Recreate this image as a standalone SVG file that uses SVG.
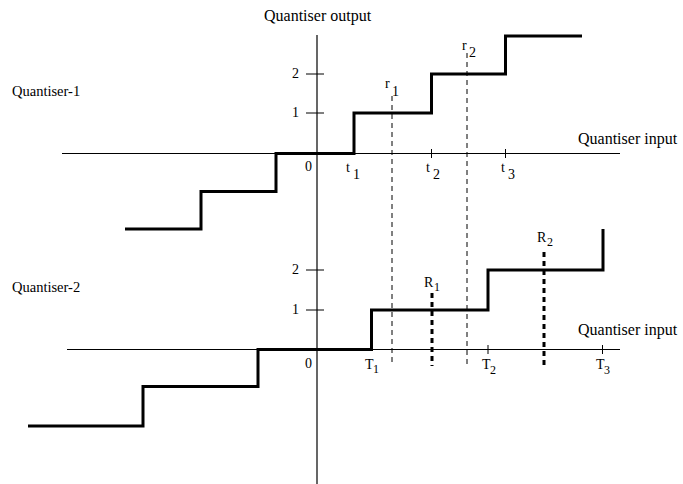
<svg xmlns="http://www.w3.org/2000/svg" width="683" height="484" viewBox="0 0 683 484">
<style>
text{font-family:"Liberation Serif","Times New Roman",serif;fill:#000}
.lab{font-size:16px}
.ql{font-size:14.5px}
.num{font-size:14px}
.sub{font-size:12px}
.axis{stroke:#000;stroke-width:1.2;fill:none}
.tick{stroke:#000;stroke-width:1;fill:none}
.step{stroke:#000;stroke-width:3;fill:none;stroke-linejoin:miter}
.dash{stroke:#000;stroke-width:1;stroke-dasharray:5,4;fill:none}
.dashb{stroke:#000;stroke-width:3;stroke-dasharray:5,4;fill:none}
</style>
<rect width="683" height="484" fill="#fff"/>
<g id="axes">
<line class="axis" x1="317" y1="35" x2="317" y2="484"/>
<line class="axis" x1="62" y1="153.5" x2="620" y2="153.5"/>
<line class="axis" x1="67" y1="349.5" x2="620" y2="349.5"/>
<line class="tick" x1="306" y1="74" x2="324" y2="74"/>
<line class="tick" x1="306" y1="113" x2="324" y2="113"/>
<line class="tick" x1="306" y1="270" x2="324" y2="270"/>
<line class="tick" x1="306" y1="310" x2="324" y2="310"/>
<line class="tick" x1="431.5" y1="149" x2="431.5" y2="158"/>
<line class="tick" x1="505.5" y1="149" x2="505.5" y2="158"/>
<line class="tick" x1="488" y1="345" x2="488" y2="354"/>
<line class="tick" x1="602.5" y1="345" x2="602.5" y2="354"/>
</g>
<g id="quantiser-1">
<polyline class="step" points="125,229 201,229 201,191.5 276,191.5 276,153.5 354,153.5 354,113 431.5,113 431.5,74 505.5,74 505.5,36 582,36"/>
</g>
<g id="quantiser-2">
<polyline class="step" points="28,426 143,426 143,386.5 258,386.5 258,349.5 371.5,349.5 371.5,310 488,310 488,270 603,270 603,229"/>
</g>
<g id="connectors">
<line class="dash" x1="392" y1="96" x2="392" y2="366"/>
<line class="dash" x1="467" y1="53" x2="467" y2="367"/>
<line class="dashb" x1="432" y1="293" x2="432" y2="366"/>
<line class="dashb" x1="544" y1="252" x2="544" y2="367"/>
</g>
<g id="labels">
<text class="lab" x="264" y="21">Quantiser output</text>
<text class="ql" x="12" y="96">Quantiser-1</text>
<text class="ql" x="12" y="292">Quantiser-2</text>
<text class="lab" x="578" y="144">Quantiser input</text>
<text class="lab" x="578" y="335">Quantiser input</text>
<text class="num" x="292" y="78">2</text>
<text class="num" x="292" y="117">1</text>
<text class="num" x="292" y="274">2</text>
<text class="num" x="292" y="314">1</text>
<text class="num" x="305" y="171">0</text>
<text class="num" x="305" y="368">0</text>
<text class="num" x="346" y="172">t</text><text class="num" x="353" y="179">1</text>
<text class="num" x="426" y="172">t</text><text class="num" x="433" y="179">2</text>
<text class="num" x="501" y="172">t</text><text class="num" x="508" y="179">3</text>
<text class="num" x="385" y="88">r</text><text class="num" x="392" y="96">1</text>
<text class="num" x="462" y="50">r</text><text class="num" x="469" y="57">2</text>
<text class="num" x="365" y="369">T</text><text class="sub" x="373" y="373">1</text>
<text class="num" x="482" y="369">T</text><text class="sub" x="490" y="374">2</text>
<text class="num" x="596" y="369">T</text><text class="sub" x="604" y="374">3</text>
<text class="num" x="424" y="287">R</text><text class="sub" x="434" y="291">1</text>
<text class="num" x="537" y="242">R</text><text class="sub" x="547" y="246">2</text>
</g>
</svg>
